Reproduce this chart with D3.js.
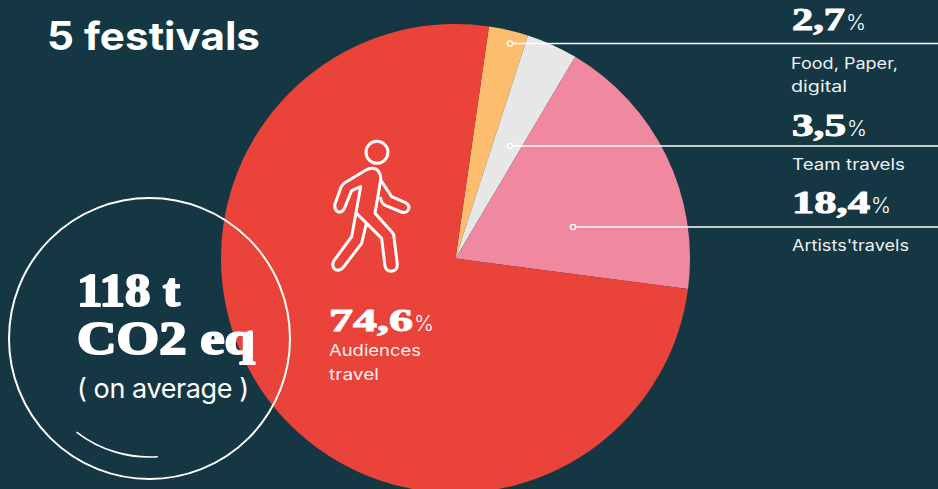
<!DOCTYPE html>
<html>
<head>
<meta charset="utf-8">
<script src="https://cdnjs.cloudflare.com/ajax/libs/d3/7.8.5/d3.min.js"></script>
<style>
  html, body { margin: 0; padding: 0; background: #153744; overflow: hidden; }
  svg { display: block; }
  .sans { font-family: Inter, "Open Sans", sans-serif; fill: #fff; }
  .fat { font-family: "Liberation Serif", serif; font-weight: 700; fill: #fff; stroke: #fff; stroke-linejoin: round; }
</style>
</head>
<body>
<svg id="chart" width="938" height="489"></svg>
<script>
// Share of emissions by source, percent
const categories = ["Food, Paper, digital", "Team travels", "Artists'travels", "Audiences travel"];
const shares = [2.7, 3.5, 18.4, 74.6];
const shareLabels = ["2,7", "3,5", "18,4", "74,6"];
const sliceColors = ["#FDBD6F", "#E7E7E7", "#F088A0", "#EA4339"];

const svg = d3.select("#chart");
const cx = 455.5, cy = 258.5, radius = 234.5;
const startDeg = 8.2;

// Slices run clockwise from just right of twelve o'clock, in the given order
const pie = d3.pie().sort(null).value(d => d)
  .startAngle(startDeg * Math.PI / 180)
  .endAngle((startDeg + 360) * Math.PI / 180);
const arc = d3.arc().innerRadius(0).outerRadius(radius);

svg.append("g").attr("transform", `translate(${cx},${cy})`)
  .selectAll("path").data(pie(shares)).join("path")
  .attr("d", arc)
  .attr("fill", (d, i) => sliceColors[i]);

// Leader lines from a small ring inside each minor slice to the right edge
const leaders = [
  { x: 510, y: 43.5 },
  { x: 510, y: 146 },
  { x: 573, y: 227 }
];
const leaderG = svg.append("g");
leaderG.selectAll("line").data(leaders).join("line")
  .attr("x1", d => d.x).attr("x2", 938)
  .attr("y1", d => d.y).attr("y2", d => d.y)
  .attr("stroke", "#fff").attr("stroke-width", 1.4);
leaderG.selectAll("circle").data(leaders).join("circle")
  .attr("cx", d => d.x).attr("cy", d => d.y).attr("r", 2.6)
  .attr("fill", (d, i) => sliceColors[i])
  .attr("stroke", "#fff").attr("stroke-width", 1.4);

// Big figure followed by a light percent sign
function figure(x, baseline, i, numWidth) {
  svg.append("text").attr("class", "fat")
    .attr("x", x).attr("y", baseline)
    .attr("font-size", 32).attr("stroke-width", 1)
    .attr("textLength", numWidth).attr("lengthAdjust", "spacingAndGlyphs")
    .text(shareLabels[i]);
  svg.append("text").attr("class", "sans")
    .attr("x", x + numWidth + 1).attr("y", baseline)
    .attr("font-size", 22).attr("font-weight", 300)
    .attr("textLength", 20).attr("lengthAdjust", "spacingAndGlyphs")
    .text("%");
}
function caption(x, baseline, str, w) {
  svg.append("text").attr("class", "sans")
    .attr("x", x).attr("y", baseline)
    .attr("font-size", 15.5).attr("font-weight", 400)
    .attr("textLength", w).attr("lengthAdjust", "spacingAndGlyphs")
    .attr("fill-opacity", .95)
    .text(str);
}

figure(792, 30, 0, 53);
caption(791, 69, "Food, Paper,", 107);
caption(791, 92, "digital", 56);
figure(792, 136, 1, 54);
caption(792, 170, "Team travels", 113);
figure(792, 213, 2, 78);
caption(792, 251, "Artists'travels", 117);
figure(329, 331, 3, 84);
caption(329, 356, "Audiences", 92);
caption(329, 380, "travel", 50);

// Title
svg.append("text").attr("class", "sans")
  .attr("x", 47).attr("y", 50)
  .attr("font-size", 39).attr("font-weight", 700)
  .attr("textLength", 213).attr("lengthAdjust", "spacingAndGlyphs")
  .text("5 festivals");

// Walking figure
const walker = svg.append("g")
  .attr("transform", "translate(310,130) scale(0.3333)")
  .attr("fill", "none").attr("stroke", "#fff")
  .attr("stroke-width", 9).attr("stroke-linejoin", "round").attr("stroke-linecap", "round");
walker.append("circle").attr("cx", 201).attr("cy", 67).attr("r", 33);
walker.append("path").attr("d",
  "M168,120 Q185,110 200,118 Q214,130 212,150 L245,200 L288,219 Q302,228 294,241 Q286,251 274,246 L226,226 Q214,220 212,205 " +
  "M212,150 L195,250 L245,305 Q252,312 252,322 L262,403 Q262,422 245,424 Q228,424 225,408 L215,325 L140,250 " +
  "M168,120 L102,160 Q96,165 93,172 L75,222 Q72,240 85,246 Q97,248 103,236 L125,182 L152,170 L125,320 L72,392 Q63,408 75,418 Q88,426 100,412 L155,340 L168,285");

// Average callout inside its ring
const ring = svg.append("g").attr("fill", "none").attr("stroke", "#fff");
ring.append("circle").attr("cx", 149.5).attr("cy", 338.5).attr("r", 140.5).attr("stroke-width", 2);
const smile = d3.arc().innerRadius(119).outerRadius(119)
  .startAngle(Math.PI + 0.66).endAngle(Math.PI - 0.07);
ring.append("path").attr("transform", "translate(149.5,338)")
  .attr("d", smile()).attr("stroke-width", 1.6);

svg.append("text").attr("class", "fat")
  .attr("x", 77).attr("y", 306).attr("font-size", 47).attr("stroke-width", 2)
  .attr("textLength", 103).attr("lengthAdjust", "spacingAndGlyphs")
  .text("118 t");
svg.append("text").attr("class", "fat")
  .attr("x", 77).attr("y", 354).attr("font-size", 47).attr("stroke-width", 2)
  .attr("textLength", 178).attr("lengthAdjust", "spacingAndGlyphs")
  .text("CO2 eq");
svg.append("text").attr("class", "sans")
  .attr("x", 77).attr("y", 398).attr("font-size", 27).attr("font-weight", 400)
  .attr("textLength", 172).attr("lengthAdjust", "spacing")
  .text("( on average )");
</script>
</body>
</html>
